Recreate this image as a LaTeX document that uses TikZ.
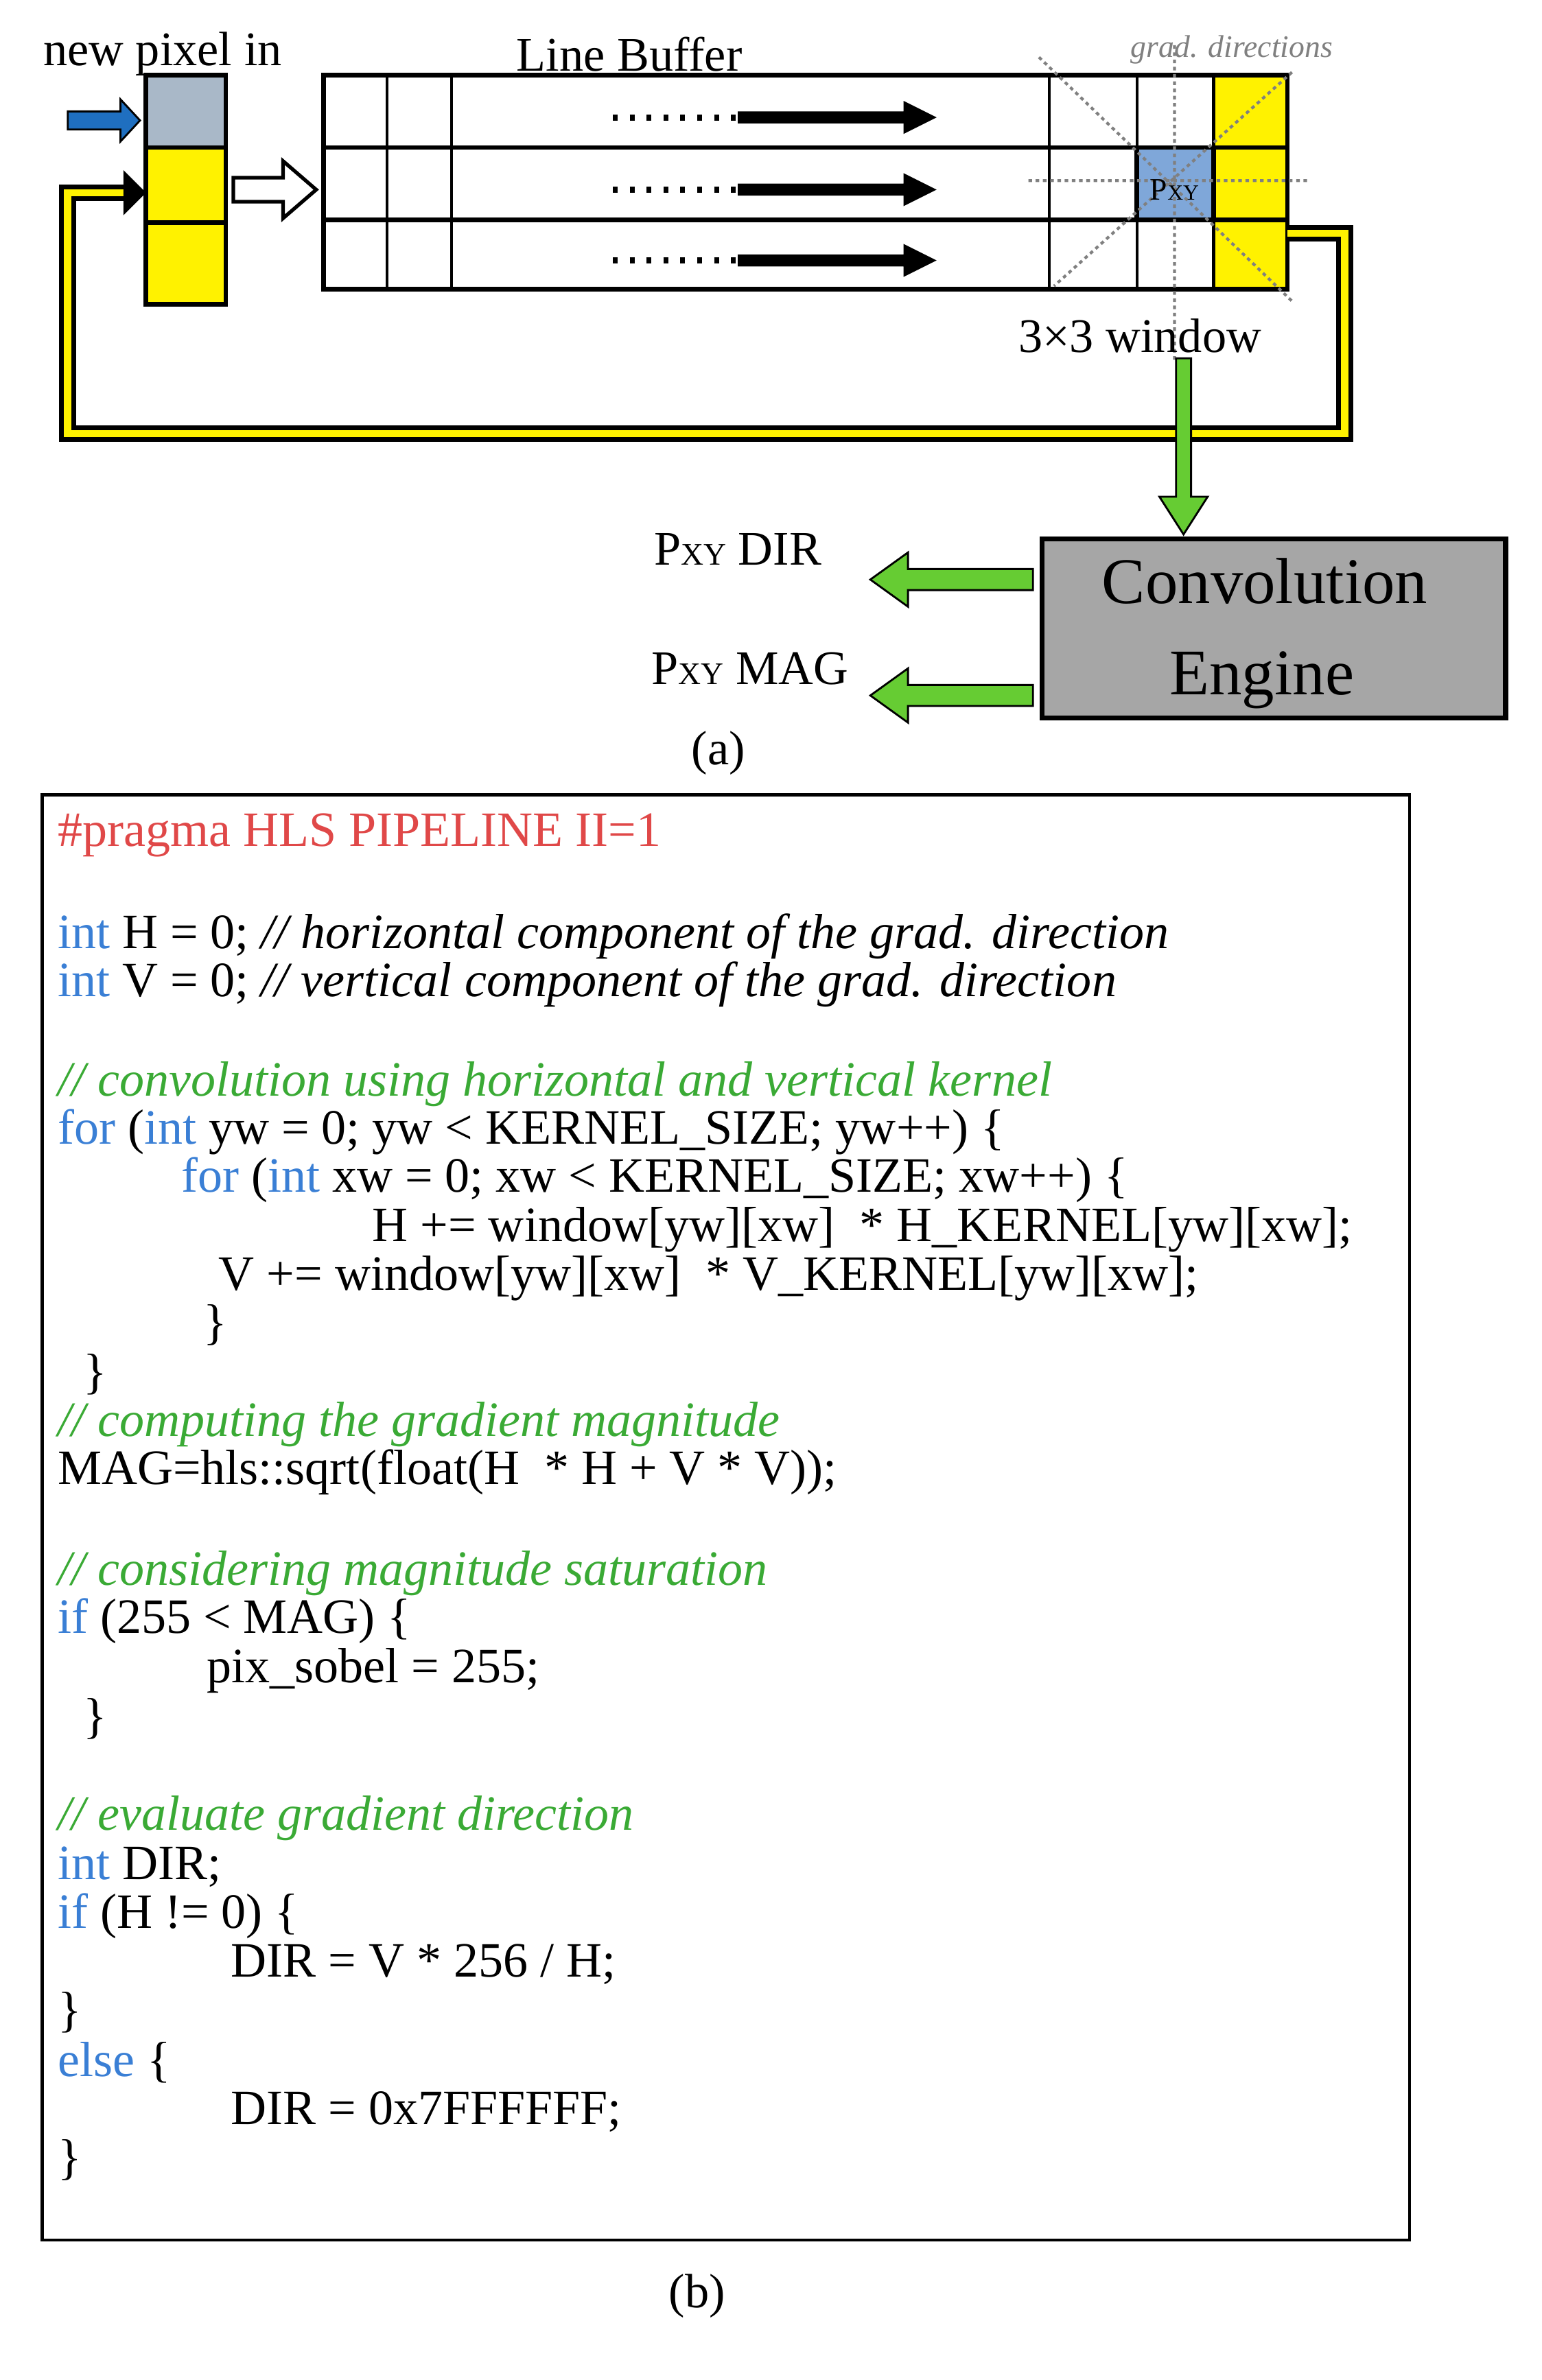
\documentclass[tikz,border=0pt]{standalone}
\usepackage{fontspec}
\setmainfont{Liberation Serif}
\begin{document}
\begin{tikzpicture}[x=0.02194cm,y=-0.02194cm,
  lbl/.style={inner sep=0pt,font=\fontsize{20}{23}\selectfont},
  code/.style={anchor=west,inner sep=0pt,font=\fontsize{20.5}{23}\selectfont},
  cmt/.style={code,text=cmgreen,font=\itshape\fontsize{20.5}{23}\selectfont},
  thk/.style={line width=1.9pt},
  thn/.style={line width=1.2pt},
  dotg/.style={gray,line width=1.2pt,dash pattern=on 1.5pt off 1.5pt},
  blk/.style={draw=black,line width=0.8pt}]
\definecolor{kwblue}{HTML}{3A7FD5}
\definecolor{cmgreen}{HTML}{3AAA35}
\definecolor{prred}{HTML}{E04848}
\definecolor{garrow}{HTML}{66CC33}
\definecolor{inblue}{HTML}{A9B8C8}
\definecolor{pxblue}{HTML}{7FA7D9}
\definecolor{arrblue}{HTML}{1F6FC0}
\definecolor{engray}{HTML}{A6A6A6}
\useasboundingbox (0,0) rectangle (1024,1581);
\fill[white] (0,0) rectangle (1024,1581);
% input column
\fill[inblue] (97,50) rectangle (150,98);
\fill[yellow] (97,98) rectangle (150,202);
\draw[thk] (97,50) rectangle (150,202) (97,98)--(150,98) (97,148)--(150,148);
% line buffer
\fill[yellow] (806,50) rectangle (855,192);
\fill[pxblue] (755,98) rectangle (806,146);
\draw[thn] (257,50)--(257,192) (300,50)--(300,192) (697,50)--(697,192) (755,50)--(755,192) (806,50)--(806,192);
\draw[thk] (215,50) rectangle (855,192) (215,98)--(855,98) (215,146)--(855,146);
\draw[thk] (755,98) rectangle (806,146);
% grad directions
\draw[dotg] (780,30)--(780,240) (683,120)--(868,120) (690,38)--(858,200) (858,48)--(700,190);
\node[lbl,text=gray,font=\itshape\fontsize{13}{15}\selectfont] (gd) at (818,33) {grad. directions};
\node[lbl,font=\fontsize{13}{15}\selectfont] (pxy) at (780,126) {P{\fontsize{9}{10}\selectfont XY}};
% dotted arrows
\foreach \yy in {78,126,173}{
  \draw[line width=2.5pt,dash pattern=on 2pt off 5pt] (407,\yy)--(490,\yy);
  \fill (490,\yy-4)--(600,\yy-4)--(600,\yy-11)--(622,\yy)--(600,\yy+11)--(600,\yy+4)--(490,\yy+4)--cycle;
}
% blue and white arrows
\filldraw[fill=arrblue,blk] (45,74)--(80,74)--(80,66)--(93,80)--(80,94)--(80,86)--(45,86)--cycle;
\filldraw[fill=white,draw=black,line width=1.5pt] (155,118)--(188,118)--(188,107)--(210,126)--(188,145)--(188,134)--(155,134)--cycle;
% yellow loop
\draw[line width=7pt,line join=miter] (855,155)--(893,155)--(893,288)--(45,288)--(45,128)--(84,128);
\draw[yellow,line width=3pt,line join=miter] (855,155)--(893,155)--(893,288)--(45,288)--(45,128)--(84,128);
\fill (82,113)--(97,128)--(82,143)--cycle;
% green arrows
\filldraw[fill=garrow,blk] (781,238)--(781,330)--(770,330)--(786,355)--(802,330)--(791,330)--(791,238)--cycle;
\foreach \yy in {385,462}{
  \filldraw[fill=garrow,blk] (686,\yy-7)--(603,\yy-7)--(603,\yy-18)--(578,\yy)--(603,\yy+18)--(603,\yy+7)--(686,\yy+7)--cycle;
}
% engine
\draw[fill=engray,line width=2.2pt] (692,358) rectangle (1000,477);
\node[lbl,font=\fontsize{27}{30}\selectfont] (conv) at (840,386) {Convolution};
\node[lbl,font=\fontsize{27}{30}\selectfont] (eng) at (838,452) {Engine};
% labels
\node[lbl] (npi) at (108,36) {new pixel in};
\node[lbl] (lb) at (418,36) {Line Buffer};
\node[lbl] (win) at (757,223) {3×3 window};
\node[lbl] (dir) at (490,365) {P{\fontsize{13}{14}\selectfont XY} DIR};
\node[lbl] (mag) at (498,444) {P{\fontsize{13}{14}\selectfont XY} MAG};
\node[lbl] (la) at (477,500) {(a)};
% code box
\draw[line width=1.2pt] (28,528) rectangle (936,1488);
\node[code,text=prred] (l1) at (38,555) {\#pragma HLS PIPELINE II=1};
\node[code] (l2) at (38,622) {\textcolor{kwblue}{int} H = 0; \textit{// horizontal component of the grad. direction}};
\node[code] (l3) at (38,654) {\textcolor{kwblue}{int} V = 0; \textit{// vertical component of the grad. direction}};
\node[cmt] (l4) at (38,720) {// convolution using horizontal and vertical kernel};
\node[code] (l5) at (38,752) {\textcolor{kwblue}{for} (\textcolor{kwblue}{int} yw = 0; yw < KERNEL\_SIZE; yw++) \{};
\node[code] (l6) at (120,784) {\textcolor{kwblue}{for} (\textcolor{kwblue}{int} xw = 0; xw < KERNEL\_SIZE; xw++) \{};
\node[code] (l7) at (247,817) {H += window[yw][xw] \ * H\_KERNEL[yw][xw];};
\node[code] (l8) at (145,849) {V += window[yw][xw] \ * V\_KERNEL[yw][xw];};
\node[code] (l9) at (135,880) {\}};
\node[code] (l10) at (55,913) {\}};
\node[cmt] (l11) at (38,946) {// computing the gradient magnitude};
\node[code] (l12) at (38,978) {MAG=hls::sqrt(float(H \ * H + V * V));};
\node[cmt] (l13) at (38,1045) {// considering magnitude saturation};
\node[code] (l14) at (38,1077) {\textcolor{kwblue}{if} (255 < MAG) \{};
\node[code] (l15) at (137,1110) {pix\_sobel = 255;};
\node[code] (l16) at (55,1142) {\}};
\node[cmt] (l17) at (38,1208) {// evaluate gradient direction};
\node[code] (l18) at (38,1240) {\textcolor{kwblue}{int} DIR;};
\node[code] (l19) at (38,1273) {\textcolor{kwblue}{if} (H != 0) \{};
\node[code] (l20) at (153,1305) {DIR = V * 256 / H;};
\node[code] (l21) at (38,1337) {\}};
\node[code] (l22) at (38,1370) {\textcolor{kwblue}{else} \{};
\node[code] (l23) at (153,1403) {DIR = 0x7FFFFFF;};
\node[code] (l24) at (38,1435) {\}};
\node[lbl] (lbb) at (463,1525) {(b)};
\end{tikzpicture}
\end{document}
